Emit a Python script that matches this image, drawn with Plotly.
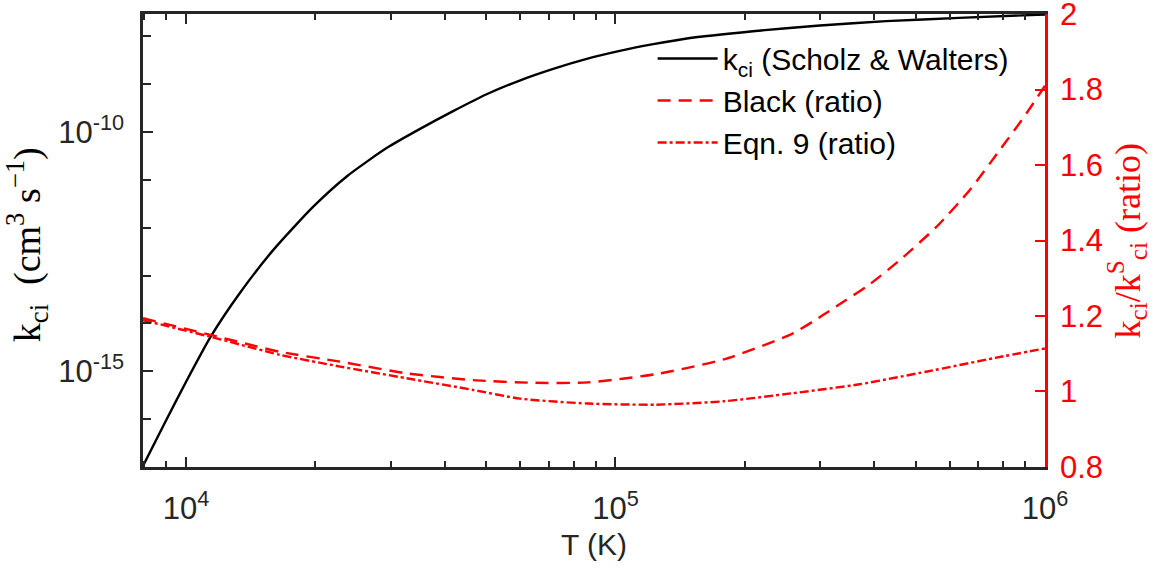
import plotly.graph_objects as go

# ── data ──────────────────────────────────────────────────────────────────────
# k_ci (Scholz & Walters), left log axis
T_sw = [7943, 8913, 10000, 11402, 13366, 15996, 19815, 23714, 29376, 35075,
        41879, 50119, 59841, 71614, 85704, 102329, 122462, 146555, 208930,
        299226, 426580, 630957, 1000000]
k_sw = [1.05e-17, 8.1e-17, 6.0e-16, 5.2e-15, 4.4e-14, 3.5e-13, 2.8e-12,
        1.2e-11, 4.7e-11, 1.17e-10, 2.75e-10, 6.2e-10, 1.2e-9, 2.1e-9, 3.4e-9,
        5.0e-9, 6.9e-9, 9.1e-9, 1.29e-8, 1.7e-8, 2.09e-8, 2.45e-8, 2.88e-8]

# Black ratio, right linear axis
T_black = [7943, 11402, 16558, 22856, 32659, 46666, 64417, 86298, 124165,
           178649, 257040, 304789, 343558, 384592, 459198, 559758, 668344,
           785236, 905733, 1000000]
r_black = [1.194, 1.150, 1.105, 1.079, 1.048, 1.030, 1.023, 1.024, 1.046,
           1.085, 1.152, 1.203, 1.242, 1.278, 1.348, 1.437, 1.534, 1.640,
           1.737, 1.810]

# Eqn. 9 ratio
T_eq9 = [7943, 11402, 16558, 22856, 32659, 46666, 59979, 86298, 124165,
         178649, 257040, 369828, 532108, 765597, 1000000]
r_eq9 = [1.189, 1.145, 1.097, 1.066, 1.035, 1.004, 0.981, 0.968, 0.965,
         0.974, 0.995, 1.019, 1.053, 1.089, 1.114]

x_major = [1e4, 1e5, 1e6]
x_major_text = ["10<sup>4</sup>", "10<sup>5</sup>", "10<sup>6</sup>"]
x_minor = [8000, 9000] + [m * 1e4 for m in range(2, 10)] + [m * 1e5 for m in range(2, 10)]

y_major = [1e-15, 1e-10]
y_major_text = ["10<sup>-15</sup>", "10<sup>-10</sup>"]
y_minor = [1e-17, 1e-16, 1e-14, 1e-13, 1e-12, 1e-11, 1e-9, 1e-8]

y2_ticks = [0.8, 1.0, 1.2, 1.4, 1.6, 1.8, 2.0]
y2_text = ["0.8", "1", "1.2", "1.4", "1.6", "1.8", "2"]

AX = '#262626'
RED = '#ff0000'
SANS = 'Liberation Sans, Arial, sans-serif'
SERIF = 'Liberation Serif, Times New Roman, serif'

fig = go.Figure()

fig.add_trace(go.Scatter(
    x=T_sw, y=k_sw, mode='lines', yaxis='y',
    line=dict(color='black', width=2.4, shape='spline', smoothing=0.6),
    name='k<sub>ci</sub> (Scholz & Walters)'
))
fig.add_trace(go.Scatter(
    x=T_black, y=r_black, mode='lines', yaxis='y2',
    line=dict(color=RED, width=2.4, dash='13px,8px', shape='spline', smoothing=0.6),
    name='Black (ratio)'
))
fig.add_trace(go.Scatter(
    x=T_eq9, y=r_eq9, mode='lines', yaxis='y2',
    line=dict(color=RED, width=2.4, dash='9px,3px,3px,3px', shape='spline', smoothing=0.6),
    name='Eqn. 9 (ratio)'
))

# axis titles as rotated annotations, placed in pixels from the plot edges
fig.add_annotation(
    text='k<sub>ci</sub>  (cm<sup>3</sup> s<sup>−1</sup>)',
    xref='paper', yref='paper', x=-116 / 903, y=0.49, xanchor='center', yanchor='middle',
    textangle=-90, showarrow=False,
    font=dict(family=SERIF, size=38, color='black'),
)
fig.add_annotation(
    text='k<sub>ci</sub>/k<sup>S</sup><sub>ci</sub> (ratio)',
    xref='paper', yref='paper', x=1 + 82 / 903, y=0.5, xanchor='center', yanchor='middle',
    textangle=-90, showarrow=False,
    font=dict(family=SERIF, size=36, color=RED),
)

fig.update_layout(
    width=1155, height=575,
    margin=dict(l=142.5, r=109.5, t=14, b=108, autoexpand=False),
    paper_bgcolor='white', plot_bgcolor='white',
    font=dict(family=SANS, size=30, color=AX),
    showlegend=True,
    legend=dict(
        x=0.565, y=0.959, xanchor='left', yanchor='top',
        bgcolor='rgba(0,0,0,0)', borderwidth=0,
        font=dict(family=SANS, size=30, color='black'),
        itemwidth=60, tracegroupgap=0,
    ),
    xaxis=dict(
        type='log', range=[3.9, 6.0],
        showline=True, linecolor=AX, linewidth=2.5, mirror='ticks',
        ticks='inside', ticklen=10, tickwidth=2, tickcolor=AX,
        tickvals=x_major, ticktext=x_major_text, ticklabelstandoff=12,
        ticklabeloverflow='allow',
        tickfont=dict(family=SANS, size=31, color=AX),
        minor=dict(tickvals=x_minor, ticks='inside', ticklen=6, tickwidth=2, tickcolor=AX),
        showgrid=False, zeroline=False,
        title=dict(text='T (K)', font=dict(family=SANS, size=30, color=AX), standoff=10),
    ),
    yaxis=dict(
        type='log', range=[-17.0, -7.53],
        showline=True, linecolor=AX, linewidth=2.5,
        ticks='inside', ticklen=10, tickwidth=2, tickcolor=AX,
        tickvals=y_major, ticktext=y_major_text, ticklabelstandoff=10,
        ticklabeloverflow='allow',
        tickfont=dict(family=SANS, size=31, color=AX),
        minor=dict(tickvals=y_minor, ticks='inside', ticklen=8, tickwidth=2, tickcolor=AX),
        showgrid=False, zeroline=False,
    ),
    yaxis2=dict(
        overlaying='y', side='right', range=[0.7999, 2.0001],
        showline=True, linecolor=RED, linewidth=2.5,
        ticks='inside', ticklen=10, tickwidth=2, tickcolor=RED,
        tickvals=y2_ticks, ticktext=y2_text, ticklabelstandoff=6,
        ticklabeloverflow='allow',
        tickfont=dict(family=SANS, size=31, color=RED),
        showgrid=False, zeroline=False,
    ),
)

# the page body has a default 8px margin; drop it so the figure sits at (0, 0)
fig.write_html("out.html", config={'displayModeBar': False},
               post_script="document.body.style.margin='0';")
